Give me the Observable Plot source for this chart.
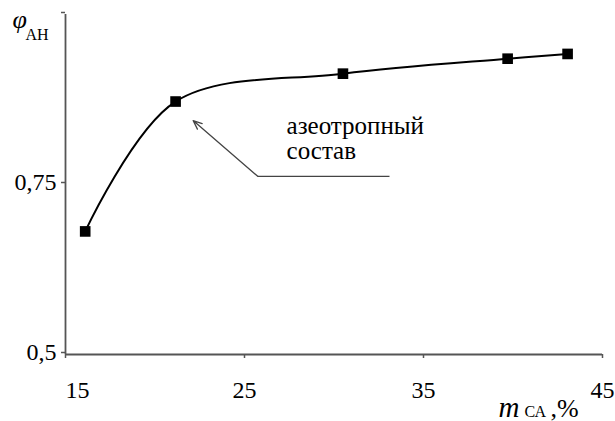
<!DOCTYPE html>
<html><head><meta charset="utf-8">
<script src="https://cdn.jsdelivr.net/npm/d3@7"></script>
<script src="https://cdn.jsdelivr.net/npm/@observablehq/plot@0.6"></script>
<style>
html,body{margin:0;padding:0;background:#fff}
#chart svg{display:block}
#chart svg text{font-family:"Liberation Serif","Times New Roman",serif}
</style>
</head><body><div id="chart"></div>
<script>
// Data
const massCA = [16.1, 21.15, 30.5, 39.7, 43.05];
const phiAN  = [0.681, 0.872, 0.913, 0.935, 0.942];
const xTicks = [15, 25, 35, 45];
const yTicks = [0.5, 0.75, 1.0];
const yTickLabels = ["0,5", "0,75", ""];
const annotationLines = ["азеотропный", "состав"];
const annotationAt = [27.35, 0.788];
const arrowFrom = [25.74, 0.762];
const arrowTo = [22.13, 0.844];
const leaderEnd = [33.1, 0.762];

const points = massCA.map((m, i) => ({m, phi: phiAN[i]}));

const serif = "Liberation Serif";
const axisGray = "#555";

const chart = Plot.plot({
  width: 615,
  height: 421,
  marginLeft: 65,
  marginRight: 13,
  marginTop: 14,
  marginBottom: 67,
  style: {fontFamily: serif, fontSize: "24px", color: "black", background: "white"},
  x: {domain: [15, 45]},
  y: {domain: [0.5, 1.0]},
  marks: [
    Plot.ruleX([xTicks[0]], {stroke: axisGray, strokeWidth: 1.8}),
    Plot.ruleY([yTicks[0]], {stroke: axisGray, strokeWidth: 1.8}),
    Plot.axisY({ticks: yTicks, tickSize: 4, tickPadding: 5, dy: -2, stroke: axisGray, strokeWidth: 1.5, fill: "black",
      fontSize: 24, fontFamily: serif, tickFormat: d => yTickLabels[yTicks.indexOf(d)], label: null}),
    Plot.axisX({ticks: xTicks, tickSize: 4, tickPadding: 22, stroke: axisGray, strokeWidth: 1.5, fill: "black",
      fontSize: 24, fontFamily: serif, tickFormat: d => d === xTicks[0] ? "" : String(d), label: null}),
    Plot.text([xTicks[0]], {x: d => d, frameAnchor: "bottom", textAnchor: "start", lineAnchor: "top",
      dy: 26, fontSize: 24, fontFamily: serif, fill: "black", text: d => String(d)}),
    // axis titles
    Plot.text(["φ"], {frameAnchor: "top-left", textAnchor: "start", lineAnchor: "bottom",
      dx: -53, dy: 13, fontSize: 26, fontFamily: serif, fontStyle: "italic", fill: "black"}),
    Plot.text(["АН"], {frameAnchor: "top-left", textAnchor: "start", lineAnchor: "bottom",
      dx: -40, dy: 25, fontSize: 16, fontFamily: serif, fill: "black"}),
    Plot.text(["m"], {frameAnchor: "bottom-right", textAnchor: "start", lineAnchor: "bottom",
      dx: -104, dy: 62, fontSize: 29, fontFamily: serif, fontStyle: "italic", fill: "black"}),
    Plot.text(["СА"], {frameAnchor: "bottom-right", textAnchor: "start", lineAnchor: "bottom",
      dx: -78, dy: 62, fontSize: 16, fontFamily: serif, fill: "black"}),
    Plot.text([",%"], {frameAnchor: "bottom-right", textAnchor: "start", lineAnchor: "bottom",
      dx: -52, dy: 62, fontSize: 26, fontFamily: serif, fill: "black"}),
    // annotation
    Plot.link([0], {x1: () => arrowFrom[0], y1: () => arrowFrom[1], x2: () => leaderEnd[0], y2: () => leaderEnd[1],
      stroke: "#444", strokeWidth: 1.3}),
    Plot.arrow([0], {x1: () => arrowFrom[0], y1: () => arrowFrom[1], x2: () => arrowTo[0], y2: () => arrowTo[1],
      stroke: "#444", strokeWidth: 1.3, headLength: 11, headAngle: 45}),
    Plot.text([annotationLines.join("\n")], {x: () => annotationAt[0], y: () => annotationAt[1], text: d => d,
      textAnchor: "start", lineAnchor: "bottom", lineHeight: 1.0, fontSize: 25, fontFamily: serif, fill: "black"}),
    // series
    Plot.line(points, {x: "m", y: "phi", curve: "catmull-rom", stroke: "black", strokeWidth: 2}),
    Plot.dot(points, {x: "m", y: "phi", symbol: "square", r: 6, fill: "black", stroke: "none"})
  ]
});
document.getElementById("chart").appendChild(chart);
</script>
</body></html>
